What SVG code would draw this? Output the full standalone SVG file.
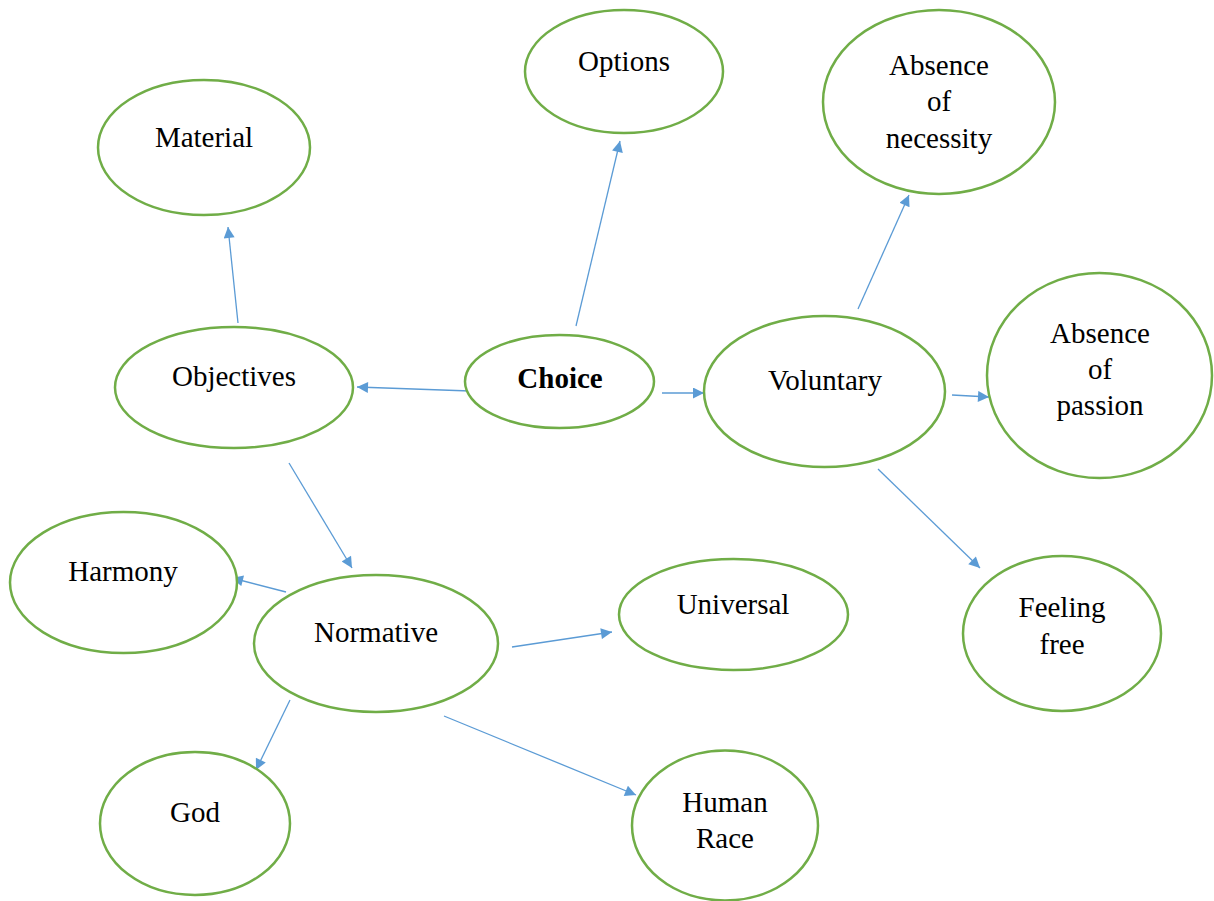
<svg xmlns="http://www.w3.org/2000/svg" width="1214" height="901" viewBox="0 0 1214 901">
<style>
.n{fill:#fff;stroke:#70ad47;stroke-width:2.5}
.t{font-family:"Liberation Serif","Times New Roman",serif;font-size:29px;fill:#000;text-anchor:middle}
.c line{stroke:#5b9bd5;stroke-width:1.3;marker-end:url(#a)}
</style>
<defs>
<marker id="a" viewBox="0 0 10 10" refX="10" refY="5" markerWidth="13" markerHeight="11" markerUnits="userSpaceOnUse" orient="auto">
<path d="M0,0L10,5L0,10z" fill="#5b9bd5"/>
</marker>
</defs>
<rect width="1214" height="901" fill="#fff"/>
<g class="c">
<line x1="576" y1="326" x2="620" y2="141"/>
<line x1="238" y1="323" x2="228" y2="227"/>
<line x1="470" y1="391" x2="357" y2="387"/>
<line x1="662" y1="393" x2="704" y2="393"/>
<line x1="858" y1="309" x2="909" y2="195"/>
<line x1="952" y1="395" x2="989" y2="397"/>
<line x1="878" y1="469" x2="980" y2="568"/>
<line x1="289" y1="463" x2="352" y2="568"/>
<line x1="286" y1="592" x2="232" y2="578"/>
<line x1="512" y1="647" x2="612" y2="632"/>
<line x1="290" y1="700" x2="256" y2="770"/>
<line x1="444" y1="716" x2="636" y2="795"/>
</g>
<g id="options"><ellipse class="n" cx="624" cy="71.5" rx="99" ry="61.5"/><text class="t" x="624" y="71">Options</text></g>
<g id="material"><ellipse class="n" cx="204" cy="147.5" rx="106" ry="67.5"/><text class="t" x="204" y="147">Material</text></g>
<g id="absence-necessity"><ellipse class="n" cx="939" cy="102" rx="116" ry="92"/><text class="t" x="939" y="75">Absence</text><text class="t" x="939" y="111">of</text><text class="t" x="939" y="148">necessity</text></g>
<g id="objectives"><ellipse class="n" cx="234" cy="387.5" rx="119" ry="60.5"/><text class="t" x="234" y="386">Objectives</text></g>
<g id="choice"><ellipse class="n" cx="559.5" cy="381.5" rx="94.5" ry="46.5"/><text class="t" x="560" y="388" font-weight="bold">Choice</text></g>
<g id="voluntary"><ellipse class="n" cx="824.5" cy="391.5" rx="120.5" ry="75.5"/><text class="t" x="825" y="390">Voluntary</text></g>
<g id="absence-passion"><ellipse class="n" cx="1099.5" cy="375.5" rx="112.5" ry="102.5"/><text class="t" x="1100" y="343">Absence</text><text class="t" x="1100" y="379">of</text><text class="t" x="1100" y="415">passion</text></g>
<g id="harmony"><ellipse class="n" cx="123.5" cy="582.5" rx="113.5" ry="70.5"/><text class="t" x="123" y="581">Harmony</text></g>
<g id="normative"><ellipse class="n" cx="376" cy="643.5" rx="122" ry="68.5"/><text class="t" x="376" y="642">Normative</text></g>
<g id="universal"><ellipse class="n" cx="733.5" cy="614.5" rx="114.5" ry="55.5"/><text class="t" x="733" y="614">Universal</text></g>
<g id="feeling-free"><ellipse class="n" cx="1062" cy="633.5" rx="99" ry="77.5"/><text class="t" x="1062" y="617">Feeling</text><text class="t" x="1062" y="654">free</text></g>
<g id="god"><ellipse class="n" cx="195" cy="823.5" rx="95" ry="71.5"/><text class="t" x="195" y="822">God</text></g>
<g id="human-race"><ellipse class="n" cx="725" cy="825.5" rx="93" ry="75"/><text class="t" x="725" y="812">Human</text><text class="t" x="725" y="848">Race</text></g>
</svg>
